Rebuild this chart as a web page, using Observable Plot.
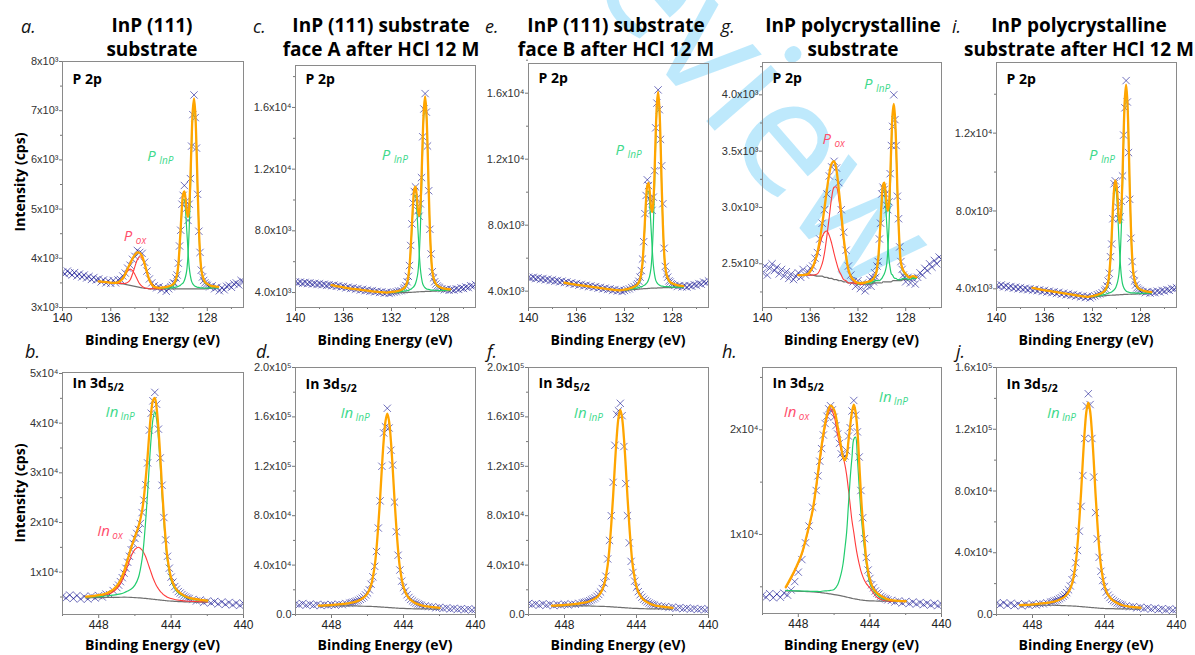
<!DOCTYPE html>
<html><head><meta charset="utf-8">
<script src="https://cdn.jsdelivr.net/npm/d3@7"></script>
<script src="https://cdn.jsdelivr.net/npm/@observablehq/plot@0.6"></script>
<style>
html,body{margin:0;padding:0;background:#fff}
#root{position:relative;width:1195px;height:655px;overflow:hidden;background:#fff}
</style></head>
<body><div id="root"></div>
<script>
// ---------- energy grids (eV) ----------
const pGrid = [140.0,139.8,139.6,139.4,139.2,139.0,138.8,138.6,138.4,138.2,138.0,137.8,137.6,137.4,137.2,137.0,136.8,136.6,136.4,136.2,136.0,135.8,135.6,135.4,135.2,135.0,134.8,134.6,134.4,134.2,134.0,133.8,133.6,133.4,133.2,133.0,132.8,132.6,132.4,132.2,132.0,131.8,131.6,131.4,131.2,131.0,
 130.9,130.8,130.7,130.6,130.5,130.4,130.3,130.2,130.1,130.0,129.9,129.8,129.7,129.6,129.5,129.4,129.3,129.2,129.1,129.0,128.9,128.8,128.7,128.6,128.5,128.4,128.3,128.2,128.1,128.0,
 127.8,127.6,127.4,127.2,127.0,126.8,126.6,126.4,126.2,126.0,125.8,125.6,125.4,125.2,125.0];
const pFit = [137.0,136.6,136.2,135.8,135.4,135.0,134.8,134.6,134.4,134.2,134.0,133.8,133.6,133.4,133.2,133.0,132.8,132.6,132.4,
 132.0,131.6,131.2,130.9,130.7,130.5,130.4,130.3,130.2,130.1,130.0,129.9,129.8,129.7,129.6,129.5,129.4,129.3,129.2,129.1,129.0,128.9,128.8,128.7,128.6,128.5,128.4,128.2,128.0,127.7,127.4,127.1];
const inGrid = [450.0,449.8,449.6,449.4,449.2,449.0,448.8,448.6,448.4,448.2,448.0,447.8,447.6,447.4,447.2,
 447.0,446.9,446.8,446.7,446.6,446.5,446.4,446.3,446.2,446.1,446.0,445.9,445.8,445.7,445.6,445.5,445.4,445.3,445.2,445.1,445.0,444.9,444.8,444.7,444.6,444.5,444.4,444.3,444.2,444.1,444.0,443.9,443.8,443.7,443.6,443.5,443.4,443.3,443.2,443.1,443.0,
 442.8,442.6,442.4,442.2,442.0,441.8,441.6,441.4,441.2,441.0,440.8,440.6,440.4,440.2,440.0];
const inFit = [448.7,448.4,448.1,447.8,447.5,447.2,447.0,446.8,446.6,446.4,446.2,446.0,445.8,445.6,445.5,445.4,445.3,445.2,445.1,445.0,444.9,444.8,444.7,444.6,444.5,444.4,444.3,444.2,444.0,443.8,443.6,443.4,443.2,443.0,442.7,442.4,442.0];

// ---------- tick values and labels (intensity in units of 10^3 cps) ----------
const pXTicks = [140,136,132,128], pXMinor = [138,134,130,126];
const inXTicks = [448,444,440], inXMinor = [450,446,442];
const aYTicks = [3,4,5,6,7,8], aYLabels = ["3x10³","4x10³","5x10³","6x10³","7x10³","8x10³"], aYMinor = [3.5,4.5,5.5,6.5,7.5];
const cYTicks = [4,8,12,16], cYLabels = ["4.0x10³","8.0x10³","1.2x10⁴","1.6x10⁴"], cYMinor = [6,10,14,18];
const gYTicks = [2.5,3.0,3.5,4.0], gYLabels = ["2.5x10³","3.0x10³","3.5x10³","4.0x10³"], gYMinor = [2.25,2.75,3.25,3.75,4.25];
const iYTicks = [4,8,12], iYLabels = ["4.0x10³","8.0x10³","1.2x10⁴"], iYMinor = [6,10,14];
const bYTicks = [10,20,30,40,50], bYLabels = ["1x10⁴","2x10⁴","3x10⁴","4x10⁴","5x10⁴"], bYMinor = [5,15,25,35,45];
const dYTicks = [0,40,80,120,160,200], dYLabels = ["0.0","4.0x10⁴","8.0x10⁴","1.2x10⁵","1.6x10⁵","2.0x10⁵"], dYMinor = [20,60,100,140,180];
const hYTicks = [10,20], hYLabels = ["1x10⁴","2x10⁴"], hYMinor = [5,15,25];
const jYTicks = [0,40,80,120,160], jYLabels = ["0.0","4.0x10⁴","8.0x10⁴","1.2x10⁵","1.6x10⁵"], jYMinor = [20,60,100,140];

// ---------- panel a : InP(111) substrate, P 2p ----------
const aData = [3.72,3.68,3.74,3.70,3.66,3.71,3.64,3.68,3.62,3.66,3.60,3.63,3.57,3.61,3.56,3.58,3.52,3.56,3.50,3.54,3.49,3.55,3.50,3.56,3.57,3.64,3.70,3.80,3.86,3.98,4.04,4.16,4.12,4.10,3.92,3.74,3.58,3.50,3.44,3.40,3.42,3.36,3.40,3.33,3.38,3.42,
 3.45,3.50,3.49,3.60,3.66,3.90,4.25,4.57,5.10,5.28,5.48,5.15,5.02,4.77,5.10,5.62,6.28,6.92,7.32,6.86,6.24,5.30,4.55,4.12,3.76,3.62,3.55,3.50,3.47,3.45,
 3.42,3.44,3.38,3.41,3.34,3.40,3.36,3.43,3.45,3.41,3.48,3.50,3.46,3.55,3.52];
const aBg = [3.53,3.52,3.51,3.50,3.49,3.48,3.47,3.46,3.45,3.44,3.43,3.42,3.41,3.40,3.39,3.39,3.38,3.38,3.38,
 3.38,3.38,3.38,3.38,3.38,3.38,3.38,3.38,3.38,3.38,3.38,3.38,3.38,3.38,3.38,3.38,3.38,3.38,3.38,3.38,3.38,3.38,3.38,3.38,3.38,3.38,3.38,3.38,3.39,3.39,3.40,3.40];
const aEnv = [3.53,3.52,3.51,3.50,3.51,3.59,3.68,3.79,3.89,3.99,4.07,4.12,4.11,4.04,3.89,3.72,3.56,3.47,3.42,
 3.40,3.41,3.43,3.46,3.51,3.68,3.87,4.22,4.64,5.05,5.31,5.36,5.20,4.94,4.84,5.04,5.62,6.42,7.02,7.25,6.97,6.31,5.39,4.62,4.09,3.78,3.65,3.52,3.48,3.44,3.43,3.42];
const aOx1 = [3.53,3.52,3.51,3.50,3.51,3.58,3.67,3.74,3.78,3.75,3.67,3.57,3.48,3.43,3.40,3.39,3.38,3.38,3.38,3.38,3.38];
const aOx2 = [3.53,3.52,3.51,3.50,3.49,3.49,3.49,3.51,3.56,3.68,3.83,3.97,4.03,4.00,3.87,3.71,3.55,3.45,3.41,3.38,3.38];
const aInP1 = [3.39,3.40,3.41,3.43,3.48,3.64,3.82,4.16,4.56,4.95,5.19,5.19,4.95,4.56,4.16,3.82,3.64,3.53,3.48,3.45,3.43,3.42,3.41,3.41,3.40,3.40,3.40,3.39,3.40,3.40,3.40,3.40];
const aInP2 = [3.39,3.40,3.40,3.40,3.41,3.42,3.43,3.44,3.46,3.48,3.50,3.55,3.63,3.76,4.06,4.60,5.36,6.27,6.91,7.18,6.91,6.27,5.36,4.60,4.06,3.76,3.63,3.50,3.47,3.43,3.43,3.42];
const aNotes = [{t:"P",s:"InP",x:132.98,y:5.98,k:"g"},{t:"P",s:"ox",x:134.92,y:4.36,k:"r"}];

// ---------- panel c : face A after HCl, P 2p ----------
const cData = [4.70,4.62,4.68,4.60,4.66,4.58,4.63,4.55,4.60,4.52,4.57,4.50,4.54,4.46,4.51,4.44,4.48,4.40,4.44,4.36,4.40,4.30,4.35,4.26,4.31,4.22,4.26,4.16,4.21,4.12,4.16,4.08,4.13,4.04,4.08,4.00,4.05,3.96,4.01,3.94,3.99,4.02,4.05,4.10,4.12,4.22,
 4.30,4.45,4.70,5.05,5.75,7.05,8.45,9.80,10.55,10.85,10.10,9.30,8.95,9.75,11.45,14.10,15.90,16.90,15.70,13.50,10.60,8.10,6.50,5.35,4.95,4.70,4.55,4.42,4.35,4.30,
 4.25,4.18,4.22,4.14,4.20,4.16,4.24,4.20,4.30,4.26,4.36,4.32,4.44,4.40,4.52];
const cBg = [4.48,4.42,4.36,4.31,4.26,4.22,4.20,4.18,4.16,4.14,4.12,4.10,4.08,4.06,4.05,4.03,4.02,4.01,4.00,
 3.98,3.98,3.99,4.00,4.00,4.01,4.01,4.02,4.02,4.03,4.03,4.04,4.04,4.05,4.05,4.06,4.06,4.06,4.07,4.07,4.07,4.08,4.08,4.08,4.09,4.09,4.09,4.10,4.10,4.11,4.12,4.13];
const cEnv = [4.48,4.42,4.36,4.31,4.26,4.22,4.20,4.18,4.16,4.14,4.12,4.10,4.08,4.06,4.05,4.03,4.02,4.01,4.00,
 4.04,4.08,4.17,4.33,4.64,5.71,6.90,8.36,9.77,10.70,10.86,10.29,9.38,8.97,9.55,11.40,14.00,15.94,16.71,15.78,13.64,10.64,8.14,6.39,5.40,4.96,4.71,4.46,4.36,4.27,4.23,4.21];
const cInP1 = [4.01,4.04,4.11,4.24,4.51,5.55,6.70,8.12,9.46,10.30,10.30,9.48,8.14,6.74,5.59,4.96,4.57,4.41,4.31,4.25,4.21,4.20,4.18,4.16,4.16,4.15,4.15,4.14,4.13,4.14,4.14,4.14];
const cInP2 = [4.00,4.02,4.05,4.09,4.12,4.17,4.21,4.27,4.33,4.43,4.59,4.85,5.28,6.28,8.02,10.51,13.48,15.59,16.47,15.60,13.49,10.53,8.05,6.31,5.33,4.90,4.65,4.41,4.32,4.25,4.21,4.19];
const cNotes = [{t:"P",s:"InP",x:132.82,y:12.58,k:"g"}];

// ---------- panel e : face B after HCl, P 2p ----------
const eData = [4.85,4.78,4.84,4.76,4.81,4.72,4.77,4.68,4.73,4.64,4.69,4.60,4.65,4.56,4.61,4.52,4.56,4.46,4.51,4.41,4.46,4.36,4.41,4.32,4.36,4.27,4.32,4.23,4.28,4.18,4.23,4.14,4.19,4.10,4.14,4.05,4.10,4.01,4.06,3.98,4.04,4.10,4.14,4.22,4.28,4.36,
 4.45,4.60,4.85,5.25,5.95,7.00,8.70,9.80,10.75,10.40,9.60,9.45,8.90,9.70,11.30,13.90,15.40,16.20,15.00,13.20,11.60,9.30,6.60,5.50,5.05,4.85,4.62,4.55,4.45,4.40,
 4.35,4.28,4.34,4.26,4.32,4.25,4.34,4.30,4.40,4.36,4.46,4.42,4.55,4.50,4.62];
const eBg = [4.51,4.46,4.41,4.37,4.33,4.29,4.27,4.25,4.23,4.21,4.19,4.17,4.15,4.13,4.11,4.09,4.07,4.06,4.05,
 4.04,4.07,4.10,4.12,4.13,4.14,4.15,4.15,4.16,4.16,4.17,4.17,4.18,4.18,4.18,4.19,4.19,4.19,4.20,4.20,4.20,4.20,4.21,4.21,4.21,4.21,4.22,4.22,4.22,4.23,4.23,4.24];
const eEnv = [4.51,4.46,4.41,4.37,4.33,4.29,4.27,4.25,4.23,4.21,4.19,4.17,4.15,4.13,4.11,4.09,4.07,4.06,4.05,
 4.09,4.16,4.27,4.43,4.73,5.73,6.86,8.22,9.55,10.41,10.57,10.03,9.19,8.80,9.35,11.09,13.52,15.35,16.08,15.20,13.19,10.37,8.03,6.38,5.44,5.03,4.80,4.55,4.46,4.38,4.33,4.31];
const eInP1 = [4.07,4.12,4.21,4.35,4.61,5.58,6.67,7.99,9.26,10.04,10.05,9.27,8.02,6.70,5.62,5.03,4.67,4.52,4.43,4.37,4.33,4.31,4.30,4.28,4.28,4.27,4.27,4.26,4.25,4.25,4.25,4.25];
const eInP2 = [4.06,4.10,4.16,4.20,4.25,4.29,4.34,4.38,4.45,4.53,4.69,4.93,5.35,6.28,7.91,10.25,13.04,15.02,15.85,15.03,13.05,10.26,7.94,6.31,5.38,4.97,4.74,4.51,4.43,4.36,4.31,4.30];
const eNotes = [{t:"P",s:"InP",x:132.75,y:12.25,k:"g"}];

// ---------- panel g : polycrystalline substrate, P 2p ----------
const gData = [2.42,2.48,2.40,2.46,2.50,2.44,2.47,2.41,2.45,2.39,2.43,2.37,2.41,2.36,2.39,2.42,2.38,2.45,2.40,2.43,2.46,2.48,2.55,2.60,2.72,2.86,2.98,3.12,3.28,3.36,3.41,3.35,3.22,2.98,2.78,2.62,2.48,2.40,2.34,2.30,2.35,2.28,2.33,2.26,2.31,2.36,
 2.30,2.38,2.34,2.42,2.38,2.48,2.52,2.72,2.86,3.12,3.18,3.16,3.12,3.02,2.98,3.05,3.30,3.55,3.72,4.00,3.78,3.55,3.10,2.90,2.65,2.52,2.45,2.40,2.38,2.34,
 2.38,2.33,2.37,2.32,2.38,2.42,2.40,2.46,2.44,2.50,2.47,2.53,2.50,2.56,2.54];
const gBg = [2.40,2.40,2.40,2.40,2.39,2.39,2.38,2.38,2.37,2.37,2.36,2.36,2.35,2.35,2.34,2.34,2.33,2.33,2.33,
 2.32,2.32,2.32,2.32,2.33,2.33,2.33,2.33,2.33,2.33,2.33,2.34,2.34,2.34,2.34,2.34,2.34,2.34,2.34,2.35,2.35,2.35,2.35,2.35,2.35,2.35,2.35,2.36,2.36,2.36,2.37,2.37];
const gEnv = [2.40,2.40,2.41,2.47,2.60,2.85,3.00,3.16,3.30,3.39,3.41,3.33,3.15,2.95,2.73,2.57,2.45,2.39,2.36,
 2.33,2.33,2.34,2.35,2.37,2.41,2.46,2.55,2.70,2.89,3.08,3.20,3.22,3.15,3.03,2.97,3.03,3.26,3.58,3.83,3.92,3.81,3.54,3.17,2.86,2.64,2.51,2.44,2.41,2.38,2.39,2.38];
const gOx1 = [2.40,2.40,2.41,2.46,2.58,2.74,2.78,2.79,2.75,2.68,2.59,2.51,2.44,2.40,2.36,2.35,2.33,2.33,2.33,2.32,2.32];
const gOx2 = [2.40,2.40,2.40,2.40,2.41,2.50,2.60,2.75,2.92,3.09,3.18,3.18,3.07,2.90,2.71,2.56,2.44,2.38,2.35,2.32,2.32];
const gInP1 = [2.32,2.33,2.33,2.34,2.36,2.40,2.45,2.53,2.68,2.86,3.04,3.15,3.15,3.05,2.87,2.69,2.54,2.46,2.41,2.40,2.38,2.37,2.37,2.36,2.36,2.36,2.36,2.37,2.37,2.36,2.37,2.37];
const gInP2 = [2.32,2.33,2.33,2.33,2.34,2.35,2.35,2.35,2.35,2.36,2.37,2.39,2.41,2.44,2.49,2.62,2.83,3.14,3.51,3.78,3.89,3.78,3.52,3.15,2.84,2.63,2.50,2.43,2.40,2.38,2.38,2.38];
const gNotes = [{t:"P",s:"InP",x:131.49,y:4.05,k:"g"},{t:"P",s:"ox",x:134.98,y:3.565,k:"r"}];

// ---------- panel i : polycrystalline after HCl, P 2p ----------
const iData = [4.18,4.12,4.20,4.10,4.16,4.06,4.12,4.03,4.09,4.00,4.06,3.97,4.03,3.95,4.01,3.93,3.98,3.90,3.95,3.86,3.92,3.83,3.88,3.80,3.85,3.76,3.82,3.72,3.78,3.69,3.74,3.66,3.71,3.62,3.67,3.58,3.63,3.55,3.61,3.53,3.60,3.64,3.70,3.74,3.80,3.90,
 3.98,4.15,4.40,4.80,5.65,6.30,7.60,9.40,9.55,9.10,8.20,7.60,7.70,8.50,9.80,11.90,13.30,14.70,13.60,11.00,8.60,6.60,5.40,4.75,4.40,4.20,4.05,3.98,3.92,3.90,
 3.86,3.80,3.86,3.78,3.84,3.80,3.88,3.84,3.92,3.88,3.96,3.92,4.02,3.98,4.06];
const iBg = [4.05,4.00,3.95,3.91,3.87,3.83,3.81,3.79,3.77,3.75,3.73,3.71,3.69,3.67,3.65,3.63,3.61,3.60,3.59,
 3.58,3.60,3.63,3.65,3.66,3.67,3.67,3.68,3.68,3.68,3.69,3.69,3.69,3.70,3.70,3.70,3.71,3.71,3.71,3.71,3.72,3.72,3.72,3.72,3.73,3.73,3.73,3.74,3.74,3.75,3.76,3.77];
const iEnv = [4.05,4.00,3.95,3.91,3.87,3.83,3.81,3.79,3.77,3.75,3.73,3.71,3.69,3.67,3.65,3.63,3.61,3.60,3.59,
 3.63,3.69,3.79,3.97,4.32,5.58,6.73,8.11,9.11,9.57,9.33,8.60,7.64,7.38,8.09,9.77,12.13,13.82,14.49,13.71,11.89,9.32,7.18,5.70,4.85,4.48,4.26,4.04,3.96,3.89,3.85,3.83];
const iInP1 = [3.61,3.66,3.74,3.90,4.22,5.45,6.56,7.90,8.84,9.23,8.85,7.91,6.58,5.48,4.70,4.26,4.07,3.96,3.89,3.85,3.83,3.81,3.79,3.79,3.79,3.79,3.78,3.78,3.77,3.77,3.78,3.78];
const iInP2 = [3.60,3.63,3.68,3.72,3.77,3.81,3.84,3.89,3.95,4.02,4.17,4.38,4.75,5.61,7.09,9.21,11.77,13.57,14.31,13.57,11.78,9.23,7.11,5.63,4.79,4.42,4.21,4.00,3.93,3.87,3.83,3.82];
const iNotes = [{t:"P",s:"InP",x:132.3,y:10.61,k:"g"}];

// ---------- panel b : InP(111) substrate, In 3d5/2 ----------
const bData = [5.2,4.8,5.4,4.7,5.3,4.6,5.1,4.6,5.2,4.8,5.3,5.0,5.6,5.5,6.3,
 6.9,7.4,8.1,8.9,9.8,10.8,12.0,13.2,14.5,15.8,16.8,17.8,18.6,19.8,22.0,24.5,27.6,32.0,38.6,42.0,44.5,46.2,43.8,38.8,33.0,27.5,21.0,16.5,13.2,10.8,9.0,8.0,7.1,6.6,6.1,5.8,5.5,5.2,5.0,4.8,4.7,
 4.5,4.2,4.4,3.9,4.2,3.8,4.1,3.6,4.0,3.5,3.9,3.4,3.8,3.3,3.7];
const bBg = [4.83,4.85,4.87,4.89,4.91,4.93,4.94,4.95,4.96,4.95,4.92,4.88,4.83,4.77,4.74,4.71,4.67,4.63,4.59,4.55,4.51,4.47,4.43,4.39,4.35,4.31,4.27,4.24,4.18,4.13,4.09,4.06,4.03,4.01,3.99,3.97,3.95];
const bEnv = [5.09,5.18,5.32,5.50,5.86,6.50,7.22,8.38,10.15,12.52,14.98,17.10,19.19,22.40,25.16,28.95,33.18,38.17,42.20,44.60,45.10,43.00,38.90,33.34,26.95,21.31,16.53,12.89,8.85,7.02,6.08,5.53,5.12,4.84,4.60,4.44,4.27];
const bOx = [4.96,5.03,5.13,5.25,5.52,6.05,6.67,7.70,9.24,11.27,13.28,14.57,15.03,14.46,13.82,13.07,12.01,10.95,9.89,8.83,7.98,7.22,6.67,6.12,5.78,5.43,5.19,4.95,4.69,4.49,4.38,4.28,4.21,4.16,4.11,4.06,4.02];
const bInP = [4.96,5.00,5.06,5.14,5.25,5.38,5.49,5.63,5.87,6.20,6.62,7.41,8.99,12.71,16.08,20.59,25.84,31.85,37.10,40.84,42.31,40.76,36.94,31.61,25.52,20.19,15.61,12.18,8.34,6.66,5.79,5.31,4.94,4.69,4.48,4.35,4.20];
const bNotes = [{t:"In",s:"InP",x:447.62,y:41.2,k:"g"},{t:"In",s:"ox",x:448.08,y:17.38,k:"r"}];

// ---------- panel d : face A after HCl, In 3d5/2 ----------
const dData = [8.6,7.8,8.9,7.6,8.4,7.4,8.2,7.3,8.0,7.4,8.1,7.6,8.3,8.0,8.9,
 9.2,9.6,9.9,10.4,10.9,11.5,12.3,13.2,14.3,15.8,17.5,20.0,24.5,30.5,39.0,51.0,70.0,92.0,120.0,147.0,152.0,167.0,151.0,133.0,121.0,91.0,67.0,48.0,36.0,27.0,22.0,19.0,16.0,13.8,12.2,11.0,10.0,9.2,8.5,8.0,7.5,
 7.0,6.4,6.2,5.4,5.8,4.9,5.4,4.5,5.0,4.2,4.7,3.9,4.5,3.7,4.3];
const dBg = [6.6,6.7,6.8,6.9,7.0,7.0,7.0,7.0,6.9,6.8,6.7,6.6,6.5,6.4,6.3,6.2,6.1,6.0,5.9,5.8,5.7,5.6,5.5,5.4,5.3,5.2,5.1,5.0,4.9,4.8,4.7,4.6,4.6,4.5,4.5,4.4,4.3];
const dEnv = [7.15,7.33,7.59,7.92,8.41,8.88,9.28,9.83,10.67,11.98,13.77,17.12,23.77,39.37,53.4,72.14,94.02,119.04,140.92,156.52,162.7,156.32,140.52,118.44,93.22,71.14,52.2,37.97,22.17,15.32,11.77,9.78,8.37,7.33,6.54,5.97,5.32];
const dNotes = [{t:"In",s:"InP",x:447.5,y:159,k:"g"}];

// ---------- panel f : face B after HCl, In 3d5/2 ----------
const fData = [8.9,7.9,8.6,7.5,8.7,7.6,8.3,7.2,8.1,7.5,8.4,7.7,8.5,8.2,9.0,
 9.4,9.8,10.1,10.6,11.2,11.9,12.6,13.5,14.8,16.2,18.2,21.0,25.5,31.0,45.0,60.0,80.0,107.0,137.0,162.0,165.0,171.0,161.0,136.0,106.0,80.0,58.0,43.0,34.0,27.0,22.0,18.5,16.0,14.0,12.4,11.2,10.2,9.3,8.6,8.1,7.6,
 7.1,6.6,6.4,5.6,6.0,5.0,5.6,4.7,5.2,4.4,4.9,4.1,4.6,3.8,4.4];
const fBg = [6.6,6.7,6.8,6.9,7.0,7.0,7.0,7.0,6.9,6.8,6.7,6.6,6.5,6.4,6.3,6.2,6.1,6.0,5.9,5.8,5.7,5.6,5.5,5.4,5.3,5.2,5.1,5.0,4.9,4.8,4.7,4.6,4.6,4.5,4.5,4.4,4.3];
const fEnv = [7.16,7.34,7.6,7.94,8.44,8.92,9.32,9.88,10.74,12.08,13.9,17.32,24.1,40.0,54.3,73.4,95.7,121.2,143.5,159.4,165.7,159.2,143.1,120.6,94.9,72.4,53.1,38.6,22.5,15.52,11.9,9.88,8.44,7.38,6.58,6.0,5.34];
const fNotes = [{t:"In",s:"InP",x:447.48,y:159,k:"g"}];

// ---------- panel h : polycrystalline substrate, In 3d5/2 ----------
const hData = [4.2,4.0,4.35,3.95,4.3,4.0,4.4,4.2,4.7,5.5,6.4,7.6,9.2,10.8,12.6,
 14.2,15.6,17.0,18.2,19.5,20.6,21.3,22.0,22.3,21.9,21.2,20.4,19.6,18.7,17.7,17.3,17.5,18.0,19.4,20.2,21.8,22.8,21.4,19.8,17.4,14.2,11.6,9.6,7.8,6.6,5.8,5.2,4.9,4.6,4.4,4.3,4.1,4.0,3.9,3.85,3.75,
 3.7,3.55,3.65,3.45,3.6,3.4,3.55,3.35,3.5,3.3,3.45,3.25,3.4,3.2,3.35];
const hBg = [4.62,4.60,4.58,4.56,4.54,4.52,4.50,4.46,4.42,4.37,4.32,4.26,4.20,4.14,4.10,4.06,4.02,3.98,3.94,3.90,3.86,3.83,3.80,3.77,3.74,3.72,3.70,3.68,3.66,3.65,3.64,3.63,3.62,3.62,3.61,3.60,3.60];
const hEnv = [4.97,5.9,6.95,8.2,10.1,12.3,14.6,17.2,19.6,21.4,22.3,21.9,20.3,18.3,17.4,17.1,17.5,18.9,20.4,21.7,22.4,21.7,20.0,17.0,13.8,11.3,9.4,7.6,5.7,4.8,4.4,4.15,3.95,3.8,3.7,3.65,3.62];
const hOx = [4.9,5.8,6.85,8.1,10.0,12.2,14.4,16.9,19.3,21.1,22.0,21.3,19.5,18.0,17.4,16.7,15.7,14.3,12.8,11.3,10.2,9.0,8.0,7.2,6.5,6.0,5.6,5.3,4.9,4.4,4.0,3.8,3.7,3.65,3.63,3.62,3.61];
const hInP = [4.65,4.63,4.61,4.60,4.58,4.57,4.56,4.55,4.60,4.62,4.66,4.75,5.2,6.3,7.2,8.6,10.2,12.8,15.4,17.4,19.1,19.3,17.3,14.6,12.1,10.2,8.6,7.2,5.3,4.6,4.2,3.95,3.8,3.74,3.68,3.65,3.63];
const hNotes = [{t:"In",s:"InP",x:443.5,y:22.64,k:"g"},{t:"In",s:"ox",x:448.81,y:21.2,k:"r"}];

// ---------- panel j : polycrystalline after HCl, In 3d5/2 ----------
const jData = [7.4,6.2,7.6,6.0,7.2,5.8,6.9,5.6,6.7,5.9,6.8,6.2,7.0,6.9,7.6,
 8.0,8.3,8.7,9.1,9.6,10.2,10.9,11.8,12.8,14.2,16.0,18.5,22.5,27.0,33.5,41.5,54.0,70.0,90.0,114.0,135.0,143.0,136.0,114.0,89.0,66.0,49.0,37.0,28.0,22.0,18.0,14.5,12.5,11.0,9.8,8.9,8.2,7.5,7.0,6.5,6.1,
 5.6,5.0,5.1,4.3,4.7,3.8,4.4,3.5,4.1,3.2,3.8,2.9,3.6,2.8,3.4];
const jBg = [5.6,5.7,5.8,5.9,6.0,6.0,6.0,6.0,5.9,5.8,5.7,5.6,5.5,5.4,5.3,5.2,5.1,5.0,4.9,4.8,4.7,4.6,4.5,4.4,4.3,4.2,4.1,4.0,3.9,3.8,3.8,3.7,3.7,3.6,3.6,3.5,3.5];
const jEnv = [6.06,6.23,6.46,6.76,7.19,7.59,7.92,8.39,9.08,10.17,11.66,14.48,20.08,33.23,45.05,60.85,79.3,100.4,118.85,132.0,137.2,131.8,118.45,99.8,78.5,59.85,43.85,31.83,18.48,12.68,9.76,8.07,6.88,5.99,5.32,4.83,4.36];
const jNotes = [{t:"In",s:"InP",x:447.2,y:127.2,k:"g"}];

// ---------- helpers ----------
const zip = (xs, ys) => ys.map((y, i) => ({x: xs[i], y})).filter(d => d.x != null && d.y != null);
const head = (xs, ys) => zip(xs.slice(0, ys.length), ys);
const tail = (xs, ys) => zip(xs.slice(xs.length - ys.length), ys);

const P = {xd:[140,125], xt:pXTicks, xm:pXMinor, head:"P 2p", sub:null};
const I = {xd:[450,440], xt:inXTicks, xm:inXMinor, head:"In 3d", sub:"5/2"};
const panels = [
 {...P, frame:[62,61,243,307], hy:83, yd:[3,8], yt:aYTicks, yl:aYLabels, ym:aYMinor, data:zip(pGrid,aData), bg:zip(pFit,aBg), reds:[head(pFit,aOx1),head(pFit,aOx2)], greens:[tail(pFit,aInP1),tail(pFit,aInP2)], env:zip(pFit,aEnv), notes:aNotes},
 {...P, frame:[295,65,475,307], hy:83, yd:[3.03,18.72], yt:cYTicks, yl:cYLabels, ym:cYMinor, data:zip(pGrid,cData), bg:zip(pFit,cBg), reds:[], greens:[tail(pFit,cInP1),tail(pFit,cInP2)], env:zip(pFit,cEnv), notes:cNotes},
 {...P, frame:[528,63,708,307], hy:82, yd:[3.01,17.8], yt:cYTicks, yl:cYLabels, ym:cYMinor, data:zip(pGrid,eData), bg:zip(pFit,eBg), reds:[], greens:[tail(pFit,eInP1),tail(pFit,eInP2)], env:zip(pFit,eEnv), notes:eNotes},
 {...P, frame:[762,62,941,307], hy:82, yd:[2.112,4.287], yt:gYTicks, yl:gYLabels, ym:gYMinor, data:zip(pGrid,gData), bg:zip(pFit,gBg), reds:[head(pFit,gOx1),head(pFit,gOx2)], greens:[tail(pFit,gInP1),tail(pFit,gInP2)], env:zip(pFit,gEnv), notes:gNotes},
 {...P, frame:[996,62,1176,307], hy:83, yd:[3.04,15.63], yt:iYTicks, yl:iYLabels, ym:iYMinor, data:zip(pGrid,iData), bg:zip(pFit,iBg), reds:[], greens:[tail(pFit,iInP1),tail(pFit,iInP2)], env:zip(pFit,iEnv), notes:iNotes},
 {...I, frame:[62,372,243,614], hy:387.5, yd:[1.48,50.2], yt:bYTicks, yl:bYLabels, ym:bYMinor, data:zip(inGrid,bData), bg:zip(inFit,bBg), reds:[zip(inFit,bOx)], greens:[zip(inFit,bInP)], env:zip(inFit,bEnv), notes:bNotes},
 {...I, frame:[295,367,475,614], hy:388, yd:[0,200], yt:dYTicks, yl:dYLabels, ym:dYMinor, data:zip(inGrid,dData), bg:zip(inFit,dBg), reds:[], greens:[], env:zip(inFit,dEnv), notes:dNotes},
 {...I, frame:[528,367,708,614], hy:387.5, yd:[0,200], yt:dYTicks, yl:dYLabels, ym:dYMinor, data:zip(inGrid,fData), bg:zip(inFit,fBg), reds:[], greens:[], env:zip(inFit,fEnv), notes:fNotes},
 {...I, frame:[762,367,941,613], hy:387.5, yd:[2.45,25.95], yt:hYTicks, yl:hYLabels, ym:hYMinor, data:zip(inGrid,hData), bg:zip(inFit,hBg), reds:[zip(inFit,hOx)], greens:[zip(inFit,hInP)], env:zip(inFit,hEnv), notes:hNotes},
 {...I, frame:[996,367,1176,614], hy:388, yd:[0,160], yt:jYTicks, yl:jYLabels, ym:jYMinor, data:zip(inGrid,jData), bg:zip(inFit,jBg), reds:[], greens:[], env:zip(inFit,jEnv), notes:jNotes}
];

const AXF = "Liberation Sans, Arial, sans-serif";
const TXF = "Open Sans, Noto Sans, sans-serif";
const C = {cross:"#0c0c8e", grey:"#6f6f6f", red:"#ff3b3b", green:"#22cc6e", orange:"#ffa500", gTxt:"#3ed98b", rTxt:"#ff4d6b"};
const root = document.getElementById("root");

// watermark (behind the panels)
const wm = d3.create("svg").attr("width",1195).attr("height",655)
  .style("position","absolute").style("left","0px").style("top","0px");
wm.append("text").attr("x",521).attr("y",-92).attr("transform","rotate(49,521,-92)")
  .attr("font-family",TXF).attr("font-size",160).attr("fill","#29b6f6").attr("fill-opacity",0.3).text("Review");
root.appendChild(wm.node());

const ML = 60, MR = 2, MT = 2, MB = 24;
for (const p of panels) {
  const [x0,y0,x1,y1] = p.frame;
  const fw = x1 - x0, fh = y1 - y0;
  const lab = new Map(p.yt.map((v,i) => [v, p.yl[i]]));
  const line = (d, stroke, w) => Plot.line(d, {x:"x", y:"y", stroke, strokeWidth:w, curve:"catmull-rom", clip:true});
  const marks = [
    Plot.axisX({ticks:p.xt, tickSize:4, tickPadding:2, tickFormat:d => String(d), fontSize:12, fontFamily:AXF, stroke:"#777", fill:"#222", label:null}),
    Plot.axisX({ticks:p.xm, tickSize:2, tickFormat:() => "", stroke:"#777", label:null}),
    Plot.axisY({ticks:p.yt, tickSize:3, tickPadding:1, tickFormat:d => lab.get(d), fontSize:11, fontFamily:AXF, stroke:"#777", fill:"#333", label:null}),
    Plot.axisY({ticks:p.ym, tickSize:2, tickFormat:() => "", stroke:"#777", label:null}),
    Plot.dot(p.data, {x:"x", y:"y", symbol:"times", r:3.4, stroke:C.cross, strokeWidth:0.95, strokeOpacity:0.62, clip:true}),
    line(p.bg, C.grey, 1.2),
    ...p.reds.map(r => line(r, C.red, 1.1)),
    ...p.greens.map(g => line(g, C.green, 1.2)),
    line(p.env, C.orange, 2.3),
    Plot.frame({stroke:"#8a8a8a"}),
    Plot.text([p.head], {frameAnchor:"top-left", dx:10, dy:p.hy - y0, text:d => d, textAnchor:"start", lineAnchor:"bottom", fontSize:14, fontWeight:"bold", fontFamily:TXF, fill:"#000"})
  ];
  if (p.sub) marks.push(Plot.text([p.sub], {frameAnchor:"top-left", dx:45, dy:p.hy - y0 + 3, text:d => d, textAnchor:"start", lineAnchor:"bottom", fontSize:10.5, fontWeight:"bold", fontFamily:TXF, fill:"#000"}));
  for (const n of p.notes) {
    const col = n.k === "g" ? C.gTxt : C.rTxt;
    marks.push(Plot.text([n], {x:"x", y:"y", text:"t", textAnchor:"start", lineAnchor:"bottom", fontSize:15, fontStyle:"italic", fontFamily:TXF, fill:col}));
    marks.push(Plot.text([n], {x:"x", y:"y", text:"s", dx:(n.t === "P" ? 12 : 15), dy:3, textAnchor:"start", lineAnchor:"bottom", fontSize:10, fontStyle:"italic", fontFamily:TXF, fill:col}));
  }
  const svg = Plot.plot({
    width: ML + fw + MR, height: MT + fh + MB,
    marginLeft: ML, marginRight: MR, marginTop: MT, marginBottom: MB,
    x: {domain: p.xd, label: null}, y: {domain: p.yd, label: null},
    style: {background: "transparent", overflow: "visible", fontFamily: TXF},
    marks
  });
  svg.style.position = "absolute";
  svg.style.left = (x0 - ML) + "px";
  svg.style.top = (y0 - MT) + "px";
  root.appendChild(svg);
}

// ---------- titles and axis labels ----------
const titles = [[152,"InP (111)","substrate"],[381,"InP (111) substrate","face A after HCl 12 M"],[616,"InP (111) substrate","face B after HCl 12 M"],[853,"InP polycrystalline","substrate"],[1079,"InP polycrystalline","substrate after HCl 12 M"]];
const letters = [["a.",21,33],["c.",253,33],["e.",485,33],["g.",721,33],["i.",952,33],["b.",25,358],["d.",256,358],["f.",487,358],["h.",722,358],["j.",956,358]];
const xCenters = [152.5,385,618,851.5,1086];
const ov = d3.create("svg").attr("width",1195).attr("height",655)
  .style("position","absolute").style("left","0px").style("top","0px").style("overflow","visible");
for (const [cx,l1,l2] of titles) {
  ov.append("text").attr("x",cx).attr("y",32).attr("text-anchor","middle").attr("font-family",TXF).attr("font-weight",700).attr("font-size",19).text(l1);
  ov.append("text").attr("x",cx).attr("y",56).attr("text-anchor","middle").attr("font-family",TXF).attr("font-weight",700).attr("font-size",19).text(l2);
}
for (const [t,x,y] of letters) {
  ov.append("text").attr("x",x).attr("y",y).attr("font-family",TXF).attr("font-style","italic").attr("font-size",18).attr("fill","#111").text(t);
}
for (const cx of xCenters) {
  ov.append("text").attr("x",cx).attr("y",345).attr("text-anchor","middle").attr("font-family",TXF).attr("font-weight",700).attr("font-size",14).text("Binding Energy (eV)");
  ov.append("text").attr("x",cx).attr("y",650).attr("text-anchor","middle").attr("font-family",TXF).attr("font-weight",700).attr("font-size",14).text("Binding Energy (eV)");
}
for (const cy of [182, 493]) {
  ov.append("text").attr("transform",`translate(25,${cy}) rotate(-90)`).attr("text-anchor","middle").attr("font-family",TXF).attr("font-weight",700).attr("font-size",14).text("Intensity (cps)");
}
root.appendChild(ov.node());
</script>
</body></html>
